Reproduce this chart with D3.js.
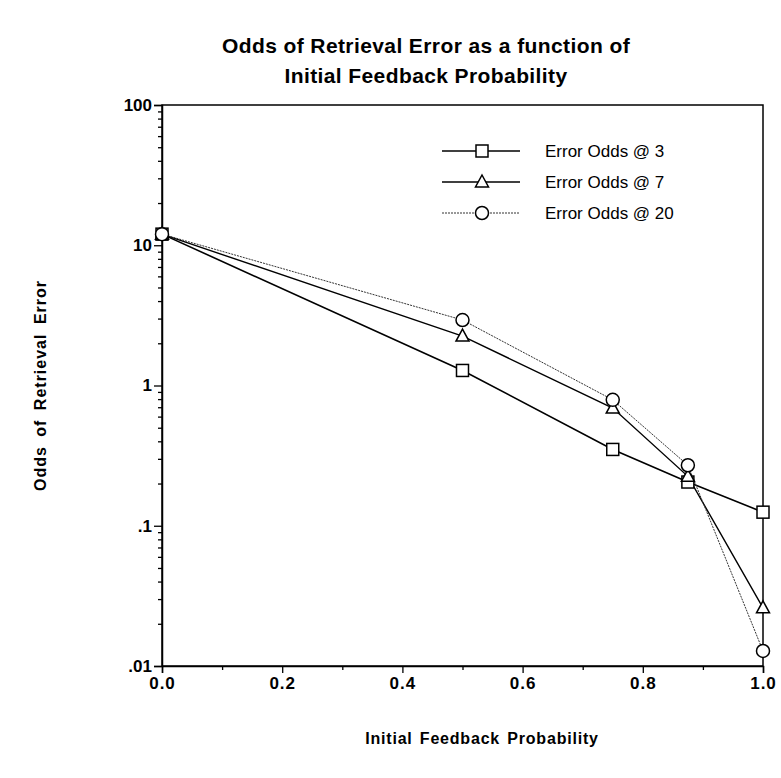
<!DOCTYPE html>
<html><head><meta charset="utf-8">
<script src="https://cdn.jsdelivr.net/npm/d3@7"></script>
<style>body{margin:0;background:#fff;} svg{display:block;}</style>
</head><body>
<svg id="c" width="781" height="778"></svg>
<script>
const xVals = [0, 0.5, 0.75, 0.875, 1.0];
const odds3 = [12, 1.28, 0.35, 0.205, 0.125];
const odds7 = [12, 2.25, 0.69, 0.225, 0.026];
const odds20 = [12, 2.93, 0.79, 0.27, 0.0128];
const seriesNames = ["Error Odds @ 3", "Error Odds @ 7", "Error Odds @ 20"];
const xTicks = [0, 0.2, 0.4, 0.6, 0.8, 1.0];
const yTicks = [0.01, 0.1, 1, 10, 100];
const yTickLabels = [".01", ".1", "1", "10", "100"];
const titleLines = ["Odds of Retrieval Error as a function of", "Initial Feedback Probability"];
const xTitle = "Initial Feedback Probability";
const yTitle = "Odds of Retrieval Error";

const svg = d3.select("#c");
const L = 162, R = 763, T = 105, B = 666;
const x = d3.scaleLinear().domain([0, 1]).range([L, R]);
const y = d3.scaleLog().domain([0.01, 100]).range([B, T]);
const font = "'Liberation Sans', Arial, sans-serif";

// title
svg.append("g").selectAll("text").data(titleLines).join("text")
  .attr("x", 426).attr("y", (d, i) => 53 + i * 30)
  .attr("text-anchor", "middle").attr("font-family", font)
  .attr("font-weight", "bold").attr("font-size", 21).attr("letter-spacing", "0.4px").text(d => d);

// frame
svg.append("rect").attr("x", L).attr("y", T).attr("width", R - L).attr("height", B - T)
  .attr("fill", "none").attr("stroke", "#000").attr("stroke-width", 1.5);

// y axis with minor ticks
const minorY = [];
[0.01, 0.1, 1, 10].forEach(d => { for (let k = 2; k <= 9; k++) minorY.push(d * k); });
const yAx = svg.append("g").attr("transform", `translate(${L},0)`)
  .call(d3.axisLeft(y).tickValues(yTicks).tickFormat((d, i) => yTickLabels[i]).tickSize(8).tickPadding(2));
svg.append("g").attr("transform", `translate(${L},0)`)
  .call(d3.axisLeft(y).tickValues(minorY).tickFormat("").tickSize(4))
  .call(g => g.select(".domain").remove());
yAx.selectAll("text").attr("font-family", font).attr("font-weight", "bold").attr("font-size", 17).attr("fill", "#000");

// x axis
const xAx = svg.append("g").attr("transform", `translate(0,${B})`)
  .call(d3.axisBottom(x).tickValues(xTicks).tickFormat(d3.format(".1f")).tickSize(7).tickPadding(4));
svg.append("g").attr("transform", `translate(0,${B})`)
  .call(d3.axisBottom(x).tickValues([0.1, 0.3, 0.5, 0.7, 0.9]).tickFormat("").tickSize(4))
  .call(g => g.select(".domain").remove());
xAx.selectAll("text").attr("font-family", font).attr("font-weight", "bold").attr("font-size", 17)
  .attr("letter-spacing", "1px").attr("fill", "#000");
svg.selectAll(".domain").attr("stroke-width", 1.5);
svg.selectAll(".tick line").attr("stroke-width", 1.3);

// axis titles
svg.append("text").attr("x", 482).attr("y", 744).attr("text-anchor", "middle")
  .attr("font-family", font).attr("font-weight", "bold").attr("font-size", 16)
  .attr("letter-spacing", "0.8px").attr("word-spacing", "2px").text(xTitle);
svg.append("text").attr("transform", `translate(46,${(T + B) / 2}) rotate(-90)`).attr("text-anchor", "middle")
  .attr("font-family", font).attr("font-weight", "bold").attr("font-size", 16)
  .attr("letter-spacing", "1px").attr("word-spacing", "4px").text(yTitle);

// series
const series = [
  { name: seriesNames[0], vals: odds3, shape: "square", width: 1.6, dash: null, color: "#000" },
  { name: seriesNames[1], vals: odds7, shape: "triangle", width: 1.4, dash: null, color: "#000" },
  { name: seriesNames[2], vals: odds20, shape: "circle", width: 1, dash: "2,1", color: "#333" }
];
const line = d3.line().x(d => x(d[0])).y(d => y(d[1]));
function marker(g, shape, cx, cy) {
  if (shape === "square") {
    g.append("rect").attr("x", cx - 6).attr("y", cy - 6).attr("width", 12).attr("height", 12);
  } else if (shape === "triangle") {
    g.append("path").attr("d", `M${cx},${cy - 7}L${cx + 6.5},${cy + 5}L${cx - 6.5},${cy + 5}Z`);
  } else {
    g.append("circle").attr("cx", cx).attr("cy", cy).attr("r", 6.5);
  }
}
series.forEach(s => {
  svg.append("path").datum(xVals.map((v, i) => [v, s.vals[i]]))
    .attr("d", line).attr("fill", "none").attr("stroke", s.color)
    .attr("stroke-width", s.width).attr("stroke-dasharray", s.dash);
});
series.forEach(s => {
  const g = svg.append("g").attr("fill", "#fff").attr("stroke", "#000").attr("stroke-width", 1.5);
  xVals.forEach((v, i) => marker(g, s.shape, x(v), y(s.vals[i])));
});

// legend
series.forEach((s, i) => {
  const ly = 151 + i * 31;
  svg.append("line").attr("x1", 442).attr("x2", 520).attr("y1", ly).attr("y2", ly)
    .attr("stroke", s.color).attr("stroke-width", s.width).attr("stroke-dasharray", s.dash);
  const g = svg.append("g").attr("fill", "#fff").attr("stroke", "#000").attr("stroke-width", 1.5);
  marker(g, s.shape, 482, ly);
  svg.append("text").attr("x", 545).attr("y", ly + 6).attr("font-family", font)
    .attr("font-size", 17).text(s.name);
});
</script>
</body></html>
